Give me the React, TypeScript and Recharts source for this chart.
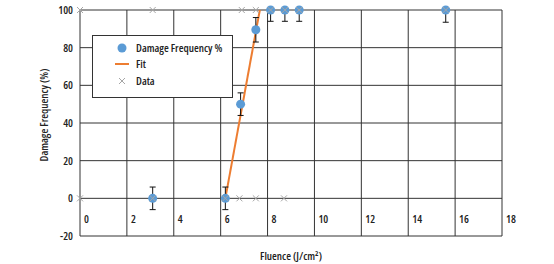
import React from 'react';
import {
  ComposedChart,
  Scatter,
  Line,
  XAxis,
  YAxis,
  CartesianGrid,
  ErrorBar,
} from 'recharts';

// measured damage frequency points, with [down, up] error
const damageX = [3.1, 6.2, 6.85, 7.5, 8.13, 8.74, 9.35, 15.6];
const damageY = [0, 0, 50, 89.5, 100, 100, 100, 100];
const damageErr = [[6, 6], [6, 6], [6, 6], [6.5, 6.5], [6, 0], [6, 0], [6, 0], [6.5, 0]];

// raw shot outcomes
const dataHighX = [0, 3.1, 6.9, 7.5, 8.13, 8.74, 9.35, 15.6];
const dataLowX = [0, 3.1, 6.2, 6.8, 7.5, 8.7];

// fit line end points
const fitX = [6.2, 7.67];
const fitY = [0, 100];

const xTicks = [0, 2, 4, 6, 8, 10, 12, 14, 16, 18];
const yTicks = [-20, 0, 20, 40, 60, 80, 100];

const FONT = "'Open Sans', sans-serif";
const TXT: React.CSSProperties = { fontFamily: FONT, fontSize: 11, fontStretch: '75%', fontWeight: 600 };
const BLUE = '#5b9bd5';
const ORANGE = '#ed7d31';
const GREY = '#a6a6a6';

const damageData = damageX.map((x, i) => ({ x, y: damageY[i], err: damageErr[i] }));
const dataPoints = [
  ...dataHighX.map(x => ({ x, y: 100 })),
  ...dataLowX.map(x => ({ x, y: 0 })),
];
const fitData = fitX.map((x, i) => ({ x, y: fitY[i] }));

const Cross = (props: any) => {
  const { cx, cy } = props;
  const s = 3;
  return (
    <g stroke={GREY} strokeWidth={1}>
      <line x1={cx - s} y1={cy - s} x2={cx + s} y2={cy + s} />
      <line x1={cx - s} y1={cy + s} x2={cx + s} y2={cy - s} />
    </g>
  );
};

const XTick = (props: any) => {
  const { x, y, payload } = props;
  return (
    <text x={x + 4} y={y - 13} style={TXT} fill="#222">
      {payload.value}
    </text>
  );
};

// rotated y axis title, nudged a little above the plot's middle
const YTitle = (props: any) => {
  const { viewBox } = props;
  const x = 43;
  const y = viewBox.y + viewBox.height / 2 - 8;
  return (
    <text
      x={x}
      y={y}
      transform={`rotate(-90 ${x} ${y})`}
      textAnchor="middle"
      dominantBaseline="central"
      style={TXT}
      fill="#222"
    >
      Damage Frequency (%)
    </text>
  );
};

const LegendBox = () => (
  <div
    style={{
      position: 'absolute',
      left: 92,
      top: 35,
      width: 141,
      height: 63,
      boxSizing: 'border-box',
      border: '1px solid #333',
      background: '#fff',
    }}
  >
    <svg width={141} height={63} style={{ position: 'absolute', left: -1, top: -1 }}>
      <circle cx={30} cy={13} r={4.5} fill={BLUE} />
      <line x1={23} y1={29} x2={37} y2={29} stroke={ORANGE} strokeWidth={2} />
      <g stroke={GREY} strokeWidth={1}>
        <line x1={27} y1={43} x2={33} y2={49} />
        <line x1={27} y1={49} x2={33} y2={43} />
      </g>
      <text x={44} y={17} style={TXT} fill="#222">Damage Frequency %</text>
      <text x={44} y={33} style={TXT} fill="#222">Fit</text>
      <text x={44} y={50} style={TXT} fill="#222">Data</text>
    </svg>
  </div>
);

export default function App() {
  return (
    <div style={{ position: 'absolute', left: 0, top: 0, width: 554, height: 264, background: '#fff' }}>
      <ComposedChart
        width={554}
        height={264}
        margin={{ top: 10, right: 52, left: 0, bottom: 0 }}
      >
        <CartesianGrid stroke="#333" strokeWidth={1} />
        <XAxis
          type="number"
          dataKey="x"
          domain={[0, 18]}
          ticks={xTicks}
          axisLine={false}
          tickLine={false}
          tickSize={0}
          tickMargin={0}
          height={28}
          tick={<XTick />}
          label={{
            value: 'Fluence (J/cm²)',
            position: 'insideBottom',
            offset: 4,
            style: { ...TXT, fill: '#222' },
          }}
        />
        <YAxis
          type="number"
          dataKey="y"
          domain={[-20, 100]}
          ticks={yTicks}
          axisLine={false}
          tickLine={false}
          tickSize={0}
          tickMargin={7}
          width={80}
          tick={{ ...TXT, fill: '#222' }}
          label={{ content: <YTitle /> }}
        />
        <Line
          data={fitData}
          dataKey="y"
          name="Fit"
          stroke={ORANGE}
          strokeWidth={2}
          dot={false}
          activeDot={false}
          isAnimationActive={false}
        />
        <Scatter
          data={damageData}
          dataKey="y"
          name="Damage Frequency %"
          fill={BLUE}
          shape={(p: any) => <circle cx={p.cx} cy={p.cy} r={4.5} fill={BLUE} />}
          isAnimationActive={false}
        >
          <ErrorBar dataKey="err" direction="y" width={3} stroke="#111" strokeWidth={1} />
        </Scatter>
        <Scatter
          data={dataPoints}
          dataKey="y"
          name="Data"
          shape={<Cross />}
          isAnimationActive={false}
        />
      </ComposedChart>
      <LegendBox />
    </div>
  );
}
